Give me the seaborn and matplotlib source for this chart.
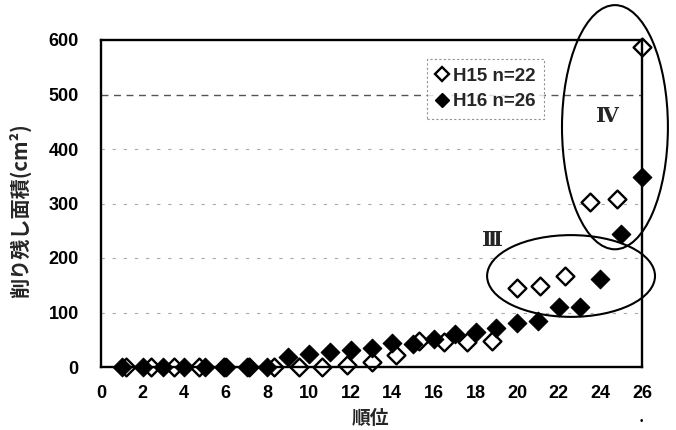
import matplotlib
matplotlib.use("Agg")
import matplotlib.pyplot as plt
from matplotlib.patches import Ellipse
from matplotlib.lines import Line2D
import seaborn as sns
import pandas as pd

# H15 survey (n=22): ranks spread over the 26-rank scale, uncut area in cm2
h15_rank = [1.2, 2.4, 3.5, 4.7, 5.9, 7.1, 8.3, 9.5, 10.6, 11.8, 13.0, 14.2,
            15.3, 16.5, 17.6, 18.8, 20.0, 21.1, 22.3, 23.5, 24.8, 26.0]
h15_area = [0, 0, 0, 0, 0, 0, 0, 0, 0, 3, 10, 22,
            48, 45, 46, 48, 145, 149, 167, 303, 308, 588]

# H16 survey (n=26)
h16_rank = [1, 2, 3, 4, 5, 6, 7, 8, 9, 10, 11, 12, 13,
            14, 15, 16, 17, 18, 19, 20, 21, 22, 23, 24, 25, 26]
h16_area = [0, 0, 0, 0, 0, 0, 0, 0, 18, 24, 28, 32, 34,
            44, 42, 51, 61, 65, 72, 81, 85, 110, 111, 161, 244, 349]

x_ticks = [0, 2, 4, 6, 8, 10, 12, 14, 16, 18, 20, 22, 24, 26]
y_ticks = [0, 100, 200, 300, 400, 500, 600]
legend_labels = ["H15 n=22", "H16 n=26"]
x_label = "順位"
y_label = "削り残し面積(cm²)"

sns.set_style("white")
plt.rcParams["font.family"] = ["Liberation Sans", "Noto Sans CJK JP", "DejaVu Sans"]

df15 = pd.DataFrame({"rank": h15_rank, "area": h15_area})
df16 = pd.DataFrame({"rank": h16_rank, "area": h16_area})

fig = plt.figure(figsize=(6.76, 4.30), dpi=100)
ax = fig.add_axes([101 / 676, 1 - 367 / 430, 541 / 676, 327 / 430])

# dashed horizontal guides
for v in y_ticks[1:-1]:
    if v == 500:
        ax.axhline(v, color="#555555", lw=1.0, ls=(0, (5, 4)), zorder=0)
    else:
        ax.axhline(v, color="#aaaaaa", lw=0.8, ls=(0, (3, 7)), zorder=0)

sns.scatterplot(data=df15, x="rank", y="area", ax=ax, marker="D", s=82,
                facecolor="white", edgecolor="black", linewidth=1.7,
                clip_on=False, zorder=3, legend=False)
sns.scatterplot(data=df16, x="rank", y="area", ax=ax, marker="D", s=90,
                color="black", edgecolor="black", linewidth=0.8,
                clip_on=False, zorder=4, legend=False)

ax.set_xlim(0, 26)
ax.set_ylim(0, 600)
ax.set_xticks(x_ticks)
ax.set_yticks(y_ticks)
ax.set_xlabel("")
ax.set_ylabel("")
for sp in ax.spines.values():
    sp.set_visible(True)
    sp.set_color("black")
    sp.set_linewidth(1.7)
    sp.set_zorder(5)
ax.tick_params(axis="both", direction="in", length=4, width=1, colors="black")
ax.tick_params(axis="y", pad=16)
ax.tick_params(axis="x", pad=13)
for lab in ax.get_xticklabels() + ax.get_yticklabels():
    lab.set_fontsize(13)
    lab.set_fontweight("bold")

# group ellipses
ax.add_patch(Ellipse((22.59, 167), 8.07, 150, fill=False, ec="black",
                     lw=1.5, clip_on=False, zorder=6))
ax.add_patch(Ellipse((24.70, 440), 5.09, 448, fill=False, ec="black",
                     lw=1.5, clip_on=False, zorder=6))
ax.text(18.8, 233, "Ⅲ", family=["DejaVu Serif", "Noto Sans CJK JP"],
        fontsize=15, fontweight="bold", ha="center", va="center")
ax.text(24.36, 460, "Ⅳ", family=["DejaVu Serif", "Noto Sans CJK JP"],
        fontsize=15, fontweight="bold", ha="center", va="center")

handles = [
    Line2D([], [], ls="", marker="D", ms=7.5, mfc="white", mec="black", mew=1.7),
    Line2D([], [], ls="", marker="D", ms=7.5, mfc="black", mec="black"),
]
leg = ax.legend(handles, legend_labels, loc="upper left",
                bbox_to_anchor=(0.602, 0.941), frameon=True, fancybox=False,
                prop={"family": "Liberation Sans", "weight": "bold", "size": 13.5},
                handlelength=0.7, handletextpad=0.25, labelspacing=0.45,
                borderpad=0.45, borderaxespad=0)
frame = leg.get_frame()
frame.set_edgecolor("#777777")
frame.set_linestyle((0, (2, 2)))
frame.set_linewidth(0.8)
leg.set_zorder(7)

fig.text(20 / 676, 1 - 211 / 430, y_label, rotation=90, ha="center", va="center",
         family=["Noto Sans CJK JP", "DejaVu Sans"], fontsize=14.5, fontweight="bold")
fig.text(370 / 676, 1 - 418 / 430, x_label, ha="center", va="center",
         family=["Noto Sans CJK JP", "DejaVu Sans"], fontsize=13.5, fontweight="bold")
fig.text(641 / 676, 1 - 421 / 430, "•", ha="center", va="center",
         fontsize=7, color="black")

fig.savefig("out.png", dpi=100)
